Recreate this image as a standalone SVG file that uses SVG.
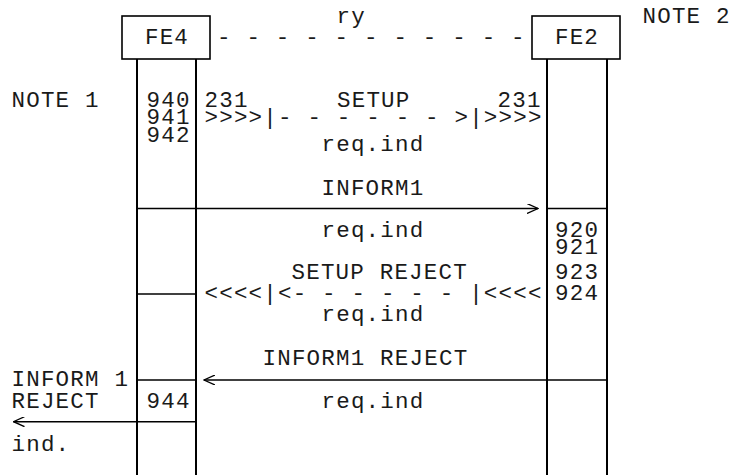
<svg xmlns="http://www.w3.org/2000/svg" width="732" height="475" viewBox="0 0 732 475">
<style>
text{font-family:"Liberation Mono","Courier New",monospace;font-size:22.5px;letter-spacing:1.2px;fill:#1a1a1a}
.mid{text-anchor:middle}
.box{fill:#fff;stroke:#000;stroke-width:1.6}
.life{stroke:#000;stroke-width:2;fill:none}
.ln{stroke:#000;stroke-width:1.4;fill:none}
.arr{stroke:#000;stroke-width:1.4;fill:none;marker-end:url(#ah)}
</style>
<defs>
<marker id="ah" viewBox="0 0 12 10" refX="11" refY="5" markerWidth="12" markerHeight="10" markerUnits="userSpaceOnUse" orient="auto"><path d="M0,0 L11,5 L0,10" fill="none" stroke="#000" stroke-width="1.3"/></marker>
</defs>
<rect width="732" height="475" fill="#fff"/>
<g id="node-FE4">
<line class="life" x1="137" y1="59" x2="137" y2="475"/>
<line class="life" x1="196" y1="59" x2="196" y2="475"/>
<rect class="box" x="122" y="16" width="88" height="43"/>
<text class="mid" x="167" y="44">FE4</text>
<text x="146.5" y="106.5">940</text>
<text x="146.5" y="124">941</text>
<text x="146.5" y="141.5">942</text>
<text x="146.5" y="407.5">944</text>
</g>
<g id="node-FE2">
<line class="life" x1="547" y1="59" x2="547" y2="475"/>
<line class="life" x1="607" y1="59" x2="607" y2="475"/>
<rect class="box" x="532" y="16" width="88" height="43"/>
<text class="mid" x="577" y="44">FE2</text>
<text x="555" y="236.5">920</text>
<text x="555" y="254">921</text>
<text x="555" y="279">923</text>
<text x="555" y="300">924</text>
</g>
<g id="notes">
<text x="642.5" y="23">NOTE 2</text>
<text x="11.5" y="107">NOTE 1</text>
<text x="11.5" y="386">INFORM 1</text>
<text x="11.5" y="407.5">REJECT</text>
<text x="11.5" y="450.5">ind.</text>
</g>
<g id="connectors">
<text x="336.5" y="23">ry</text>
<text x="217" y="44">- - - - - - - - - - -</text>
<text x="204.5" y="106.5">231</text>
<text x="337" y="106.5">SETUP</text>
<text x="497.5" y="106.5">231</text>
<text x="204.5" y="124">&gt;&gt;&gt;&gt;|- - - - - - &gt;|&gt;&gt;&gt;&gt;</text>
<text x="321.5" y="151">req.ind</text>
<text x="321.5" y="195">INFORM1</text>
<line class="arr" x1="137" y1="208.5" x2="538" y2="208.5"/>
<line class="ln" x1="547" y1="208.5" x2="607" y2="208.5"/>
<text x="321.5" y="236.5">req.ind</text>
<text x="291.5" y="279">SETUP REJECT</text>
<line class="ln" x1="137" y1="294" x2="196" y2="294"/>
<text x="204.5" y="300">&lt;&lt;&lt;&lt;|&lt;- - - - - - |&lt;&lt;&lt;&lt;</text>
<text x="321.5" y="321">req.ind</text>
<text x="262.5" y="365">INFORM1 REJECT</text>
<line class="arr" x1="607" y1="380" x2="204" y2="380"/>
<line class="ln" x1="137" y1="380" x2="196" y2="380"/>
<text x="321.5" y="407.5">req.ind</text>
<line class="arr" x1="196" y1="421.7" x2="13.5" y2="421.7"/>
</g>
</svg>
